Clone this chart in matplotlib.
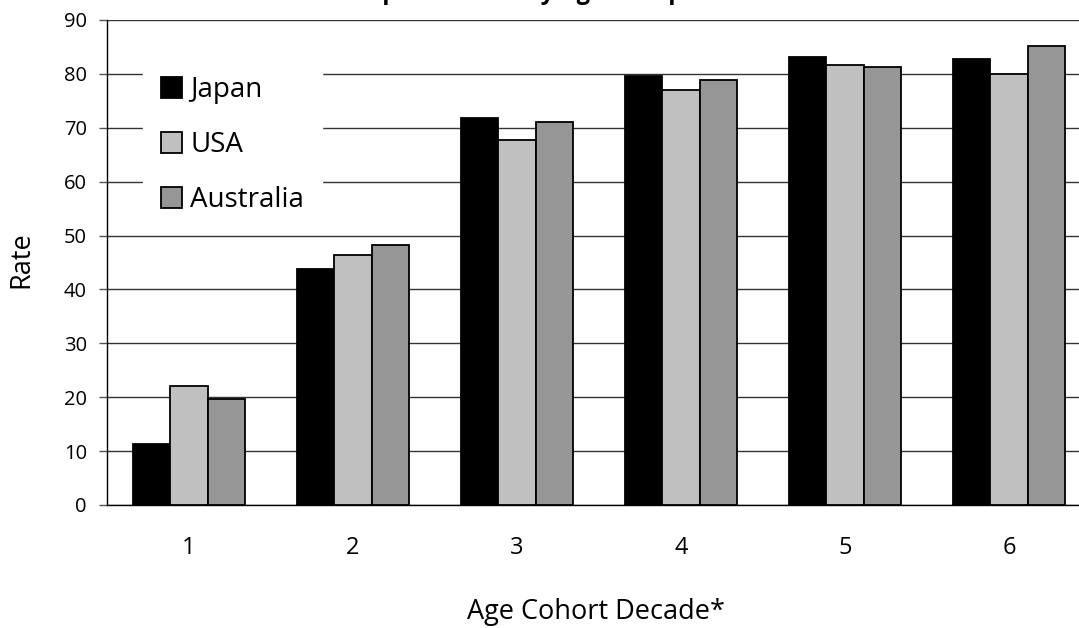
import matplotlib.pyplot as plt
import numpy as np

plt.rcParams['font.family'] = ['Open Sans', 'DejaVu Sans']

decades = ['1', '2', '3', '4', '5', '6']
japan = [11.3, 43.8, 71.9, 79.7, 83.1, 82.7]
usa = [22.1, 46.3, 67.8, 77.0, 81.6, 79.9]
australia = [19.6, 48.3, 71.0, 78.9, 81.3, 85.2]

series = [('Japan', japan, '#000000'),
          ('USA', usa, '#c0c0c0'),
          ('Australia', australia, '#969696')]

W, H = 1079, 628
fig = plt.figure(figsize=(W / 100, H / 100), dpi=100)
# axes spans a little past the right edge, like the original export
ax = fig.add_axes([107 / W, 123 / H, 984 / W, 485 / H])

x = np.arange(len(decades))
width = 0.226
for i, (name, vals, col) in enumerate(series):
    ax.bar(x + (i - 1) * width, vals, width, color=col, edgecolor='black',
           linewidth=1.3, label=name, zorder=3)

ax.set_xlim(-0.5, len(decades) - 0.5)
ax.set_ylim(0, 90)
ax.set_yticks(range(0, 91, 10))
ax.set_xticks(x)
ax.set_xticklabels(decades)
ax.yaxis.grid(True, color='#333333', linewidth=1.0, zorder=0)
ax.set_axisbelow(True)

for s in ['top', 'right']:
    ax.spines[s].set_visible(False)
ax.spines['left'].set_linewidth(1.0)
ax.spines['bottom'].set_linewidth(1.0)

ax.tick_params(axis='y', length=6, width=1, color='#555555', labelsize=14.5, pad=8.5)
ax.tick_params(axis='x', length=0, labelsize=17, pad=22)

ax.set_xlabel('Age Cohort Decade*', fontsize=19.5)
ax.xaxis.set_label_coords((596 - 107) / 984, (505 - 619) / 485)
ax.xaxis.label.set_va('baseline')
ax.set_ylabel('Rate', fontsize=19.5)
ax.yaxis.set_label_coords((21 - 107) / 984, (505 - 260) / 485)
ax.yaxis.label.set_va('center')

leg = ax.legend(loc='upper left', bbox_to_anchor=(143 / W, 1 - 58 / H),
                bbox_transform=fig.transFigure, fontsize=20,
                frameon=True, fancybox=False, edgecolor='white',
                facecolor='white', framealpha=1.0,
                handlelength=0.76, handleheight=0.76, handletextpad=0.29,
                labelspacing=0.97, borderpad=0.65, borderaxespad=0)
leg.set_zorder(5)

# title sits mostly above the canvas
fig.text(305 / W, 1 + 1 / H, 'Participation Rate by Age Group',
         fontsize=17.1, fontweight='bold', ha='left', va='baseline')

fig.savefig('out.png', dpi=100)
